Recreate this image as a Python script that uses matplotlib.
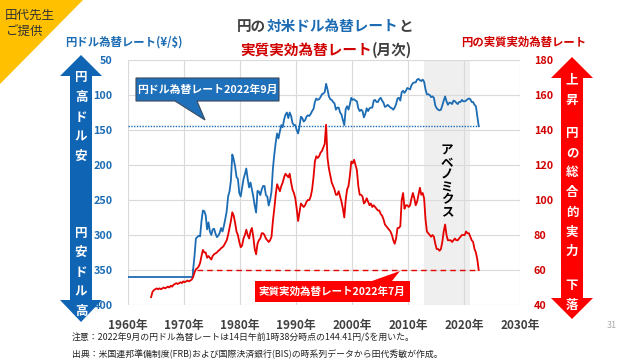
import numpy as np
import matplotlib.pyplot as plt
from matplotlib.patches import Polygon

plt.rcParams['font.family'] = ['Noto Sans CJK JP', 'DejaVu Sans']

# colours
BLUE = '#1C6CB4'
BLUE_DARK = '#0F64B4'
RED = '#E50000'
RED_TXT = '#D10000'
GRAY = '#404040'

# --- data -------------------------------------------------------------
# yen per dollar, fixed rate era
peg_years = [1960.0, 1971.55]
peg_values = [360, 360]

# yen per dollar, quarterly averages from 1971 Q3 to 2022 Q3
usd_start = 1971.5
usd_jpy = [
    350, 330,
    305, 303, 301, 302,
    280, 265, 266, 272,
    292, 282, 295, 300,
    292, 291, 298, 303,
    301, 297, 290, 295,
    287, 277, 266, 245,
    238, 222, 185, 192,
    202, 217, 220, 240,
    245, 232, 220, 213,
    205, 220, 232, 225,
    235, 245, 258, 268,
    237, 238, 243, 235,
    230, 230, 243, 245,
    258, 250, 238, 205,
    185, 168, 155, 162,
    152, 143, 146, 135,
    128, 125, 133, 125,
    130, 140, 143, 143,
    150, 155, 145, 131,
    133, 138, 136, 131,
    129, 130, 127, 123,
    120, 110, 105, 107,
    106, 103, 99, 98,
    96, 84, 92, 102,
    106, 107, 110, 112,
    121, 118, 118, 125,
    128, 136, 143, 120,
    116, 121, 113, 104,
    107, 106, 108, 109,
    119, 123, 121, 123,
    132, 127, 119, 123,
    119, 118, 118, 108,
    107, 110, 110, 106,
    104, 108, 111, 117,
    116, 114, 116, 118,
    119, 121, 118, 113,
    105, 104, 108, 96,
    94, 97, 94, 90,
    91, 92, 86, 83,
    82, 82, 78, 77,
    79, 80, 78, 81,
    92, 99, 99, 100,
    103, 102, 104, 115,
    119, 121, 122, 121,
    115, 108, 102, 109,
    114, 111, 111, 113,
    108, 109, 111, 113,
    110, 110, 107, 109,
    109, 108, 106, 105,
    106, 110, 110, 114,
    116, 130, 144.41,
]
usd_sep2022 = 144.41

# real effective exchange rate of the yen, quarterly from 1964 Q1 to 2022 Q3
reer_start = 1964.0
reer = [
    44.5, 47.5, 48.5, 49,
    49.5, 49, 49.5, 49,
    49.5, 50, 49.5, 50,
    50.5, 50, 51, 50.5,
    51.5, 52, 52.5, 52,
    52.5, 53, 52.5, 53.5,
    53, 53.5, 54, 53.5,
    54, 54.5, 56, 58.5,
    60.5, 61, 62, 64,
    68, 71.5, 70, 70,
    67, 68, 67, 66,
    68, 69, 69.5, 70,
    71, 71.5, 72.5, 73,
    74, 75.5, 77, 80,
    84, 88, 93, 91,
    87, 82, 80, 76,
    73, 74, 78, 80,
    83, 80, 78, 82,
    84, 79, 72, 69,
    75, 77, 78, 81,
    81, 80, 78, 77,
    76, 77, 79, 88,
    95, 103, 109, 107,
    105, 108, 110, 113,
    115, 114, 113, 115,
    110, 106, 104, 101,
    95, 88, 93, 98,
    97, 96, 97, 99,
    100, 100, 102, 106,
    113, 122, 125, 124,
    125, 127, 128, 130,
    132, 143, 124, 118,
    114, 110, 108, 106,
    103, 103, 105, 102,
    99, 95, 90, 100,
    106, 108, 114, 122,
    121, 123, 120, 117,
    108, 103, 103, 102,
    98, 99, 101, 99,
    97, 98, 96, 97,
    96, 95, 94, 94,
    92, 91, 89, 86,
    85, 84, 83, 82,
    80, 77, 75, 78,
    84, 84, 85, 100,
    104, 95, 97, 97,
    96, 97, 101, 104,
    101, 97, 99, 103,
    107, 103, 104, 101,
    89, 82, 81, 80,
    79, 80, 79, 75,
    72, 72, 71, 72,
    76, 82, 86, 80,
    77, 77, 77, 76,
    77, 78, 77, 77,
    78, 79, 80, 80,
    80, 82, 81, 81,
    79, 77, 76, 72,
    70, 66, 60,
]
reer_jul2022 = 60

abe_period = (2012.9, 2021.0)
decades = [1960, 1970, 1980, 1990, 2000, 2010, 2020, 2030]
left_ticks = [50, 100, 150, 200, 250, 300, 350, 400]
right_ticks = [40, 60, 80, 100, 120, 140, 160, 180]

usd_x = usd_start + 0.125 + 0.25 * np.arange(len(usd_jpy))
reer_x = reer_start + 0.125 + 0.25 * np.arange(len(reer))

# --- figure -----------------------------------------------------------
W, H = 640, 360
fig = plt.figure(figsize=(6.4, 3.6), dpi=100)


def fx(x):
    return x / W


def fy(y):
    return 1 - y / H


def poly(points, color, **kw):
    fig.add_artist(Polygon([(fx(x), fy(y)) for x, y in points], closed=True,
                           transform=fig.transFigure, facecolor=color, **kw))


ax = fig.add_axes([fx(128), fy(305), fx(520) - fx(128), fy(60) - fy(305)])
ax2 = ax.twinx()

ax.axvspan(*abe_period, color='#EFEFEF', zorder=0, lw=0)
ax.plot(peg_years, peg_values, color=BLUE, lw=1.3, zorder=3)
ax.plot([peg_years[-1], usd_x[0]], [peg_values[-1], usd_jpy[0]], color=BLUE, lw=1.3, zorder=3)
ax.plot(usd_x, usd_jpy, color=BLUE, lw=1.3, zorder=3)
ax.plot([1960, usd_x[-1]], [usd_sep2022, usd_sep2022], color=BLUE, lw=1.0, ls=(0, (1, 1)))

ax2.plot(reer_x, reer, color=RED, lw=1.3)
ax2.plot([1972.3, reer_x[-1]], [reer_jul2022, reer_jul2022], color=RED, lw=1.0, ls=(0, (4, 3)))

ax.set_xlim(1960, 2030)
ax.set_ylim(400, 50)
ax2.set_ylim(40, 180)
ax.set_xticks(decades)
ax.set_xticklabels([f'{d}年' for d in decades])
ax.set_yticks(left_ticks)
ax2.set_yticks(right_ticks)
ax.grid(True, color='#DADADA', lw=0.8)
ax.set_axisbelow(True)
for a in (ax, ax2):
    for s in a.spines.values():
        s.set_visible(False)
ax.tick_params(axis='x', length=0, pad=10, labelsize=8.5, labelcolor=GRAY)
ax.tick_params(axis='y', length=0, pad=11, labelsize=7.8, labelcolor=BLUE)
ax2.tick_params(axis='y', length=0, pad=10, labelsize=7.8, labelcolor=RED_TXT)
for t in ax.get_xticklabels() + ax.get_yticklabels() + ax2.get_yticklabels():
    t.set_fontweight('bold')

# corner badge
poly([(0, 0), (83, 0), (0, 84)], '#FFC000', lw=0)
fig.text(fx(5), fy(15), '田代先生', fontsize=9, color='#333333', va='center')
fig.text(fx(5), fy(31), 'ご提供', fontsize=9, color='#333333', va='center')

# two-coloured title lines
renderer = fig.canvas.get_renderer()


def color_line(y, parts, cx, size):
    texts = [fig.text(0, fy(y), s, color=c, fontsize=size, fontweight='bold', va='center')
             for s, c in parts]
    widths = [t.get_window_extent(renderer).width for t in texts]
    x = cx - sum(widths) / 2
    for t, w in zip(texts, widths):
        t.set_x(fx(x))
        x += w


color_line(26, [('円の', GRAY), ('対米ドル為替レート', BLUE), ('と', GRAY)], 325, 10.5)
color_line(50, [('実質実効為替レート', RED_TXT), ('(月次)', GRAY)], 326, 10.5)

fig.text(fx(65), fy(42), '円ドル為替レート(¥/$)', fontsize=8.2, color=BLUE,
         fontweight='bold', va='center')
fig.text(fx(524), fy(42), '円の実質実効為替レート', fontsize=8.2, color=RED_TXT,
         fontweight='bold', va='center', ha='center')

# big double arrows
poly([(81, 55), (102, 76), (92, 76), (92, 300), (102, 300), (81, 322),
      (60, 300), (70, 300), (70, 76), (60, 76)], BLUE_DARK, lw=0)
poly([(572, 57), (593, 78), (583, 78), (583, 298), (593, 298), (572, 319),
      (551, 298), (561, 298), (561, 78), (551, 78)], '#FF0000', lw=0)


def vtext(x, y0, step, s, color='white', size=9):
    for i, ch in enumerate(s):
        fig.text(fx(x), fy(y0 + i * step), ch, color=color, fontsize=size,
                 fontweight='bold', ha='center', va='center')


vtext(81, 78, 19.7, '円高ドル安')
vtext(81, 233, 19.7, '円安ドル高')
vtext(572, 80, 20, '上昇')
vtext(572, 133, 19.8, '円の総合的実力')
vtext(572, 285, 20, '下落')
vtext(447, 151, 12.2, 'アベノミクス', color='black', size=9)

# callouts
poly([(136, 78), (279, 78), (279, 101), (197, 101), (205, 120), (175, 101), (136, 101)],
     '#1F70BA', edgecolor='#3A4A5C', lw=0.8)
fig.text(fx(207), fy(89.5), '円ドル為替レート2022年9月', color='white', fontsize=7.8,
         fontweight='bold', ha='center', va='center')
poly([(255, 281), (372, 281), (400, 271), (392, 281), (410, 281), (410, 302), (255, 302)],
     '#FF0000', lw=0)
fig.text(fx(332), fy(291.5), '実質実効為替レート2022年7月', color='white', fontsize=7.6,
         fontweight='bold', ha='center', va='center')

# notes
fig.text(fx(72), fy(338), '注意：2022年9月の円ドル為替レートは14日午前1時38分時点の144.41円/$を用いた。',
         fontsize=6.4, color='#222222', va='center')
fig.text(fx(72), fy(354), '出典：米国連邦準備制度(FRB)および国際決済銀行(BIS)の時系列データから田代秀敏が作成。',
         fontsize=6.4, color='#222222', va='center')
fig.text(fx(612), fy(326), '31', fontsize=6.5, color='#AAAAAA', va='center', ha='center')

fig.savefig('out.png', dpi=100)
